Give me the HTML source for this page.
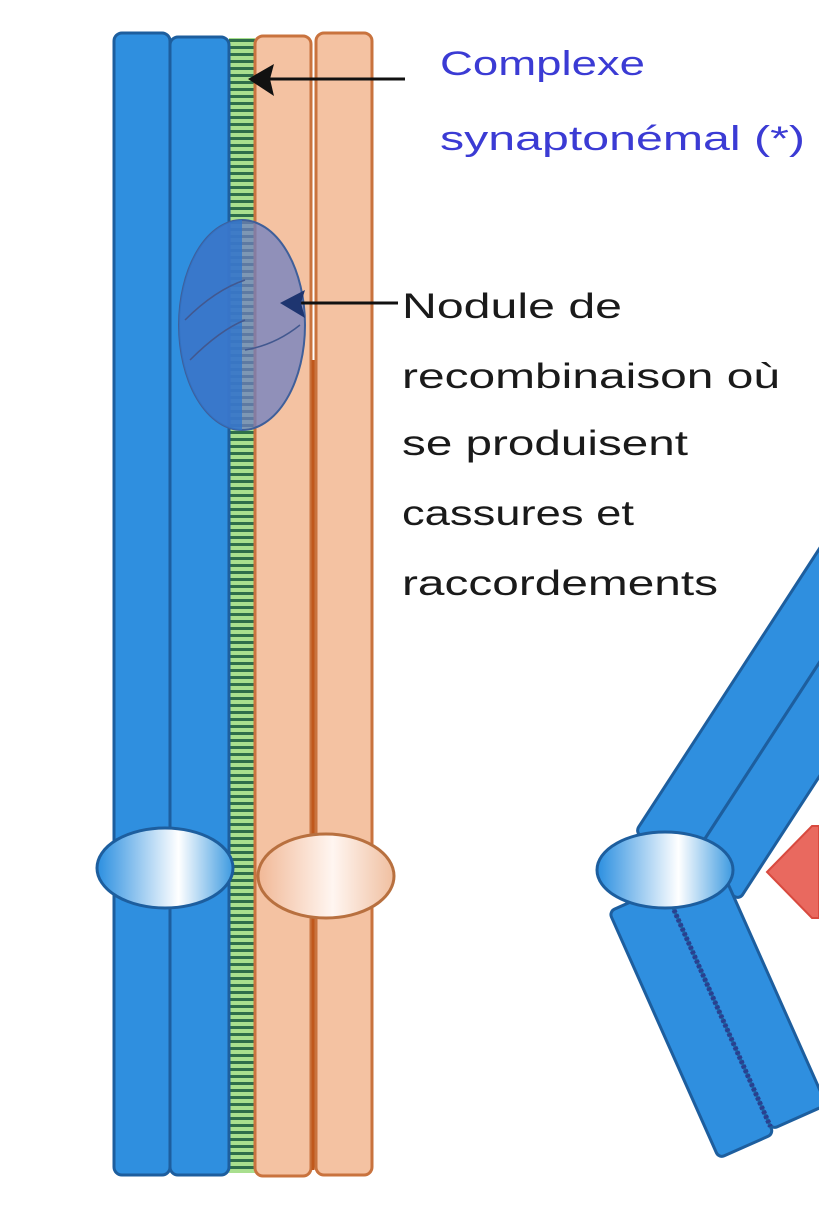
<!DOCTYPE html>
<html><head><meta charset="utf-8"><style>
html,body{margin:0;padding:0;background:#fff;}
svg{display:block;}
text{font-family:"Liberation Sans",sans-serif;}
</style></head><body>
<svg width="819" height="1214" viewBox="0 0 819 1214" xmlns="http://www.w3.org/2000/svg">
<defs>
<pattern id="lad" x="0" y="0" width="30" height="7" patternUnits="userSpaceOnUse">
<rect width="30" height="7" fill="#2f6e4a"/>
<rect y="0" width="30" height="4" fill="#a9df8e"/>
</pattern>
<linearGradient id="bc" x1="0" x2="1" y1="0" y2="0">
<stop offset="0" stop-color="#2b8fe0"/><stop offset="0.6" stop-color="#ffffff"/><stop offset="1" stop-color="#3d9ae0"/>
</linearGradient>
<linearGradient id="oc" x1="0" x2="1">
<stop offset="0" stop-color="#f1b896"/><stop offset="0.55" stop-color="#fff6f1"/><stop offset="1" stop-color="#f0bfa0"/>
</linearGradient>
</defs>
<rect width="819" height="1214" fill="#fff"/>
<rect x="229" y="38" width="26" height="1135" fill="url(#lad)"/>
<rect x="114" y="33" width="56" height="1142" rx="8" fill="#2f8fdf" stroke="#1d5e9e" stroke-width="3"/>
<rect x="170" y="37" width="59" height="1138" rx="8" fill="#2f8fdf" stroke="#1d5e9e" stroke-width="3"/>
<rect x="255" y="36" width="56" height="1140" rx="8" fill="#f4c2a2" stroke="#c9733e" stroke-width="3"/>
<rect x="316" y="33" width="56" height="1142" rx="8" fill="#f4c2a2" stroke="#c9733e" stroke-width="3"/>
<line x1="313" y1="360" x2="313" y2="1170" stroke="#c0581c" stroke-width="3"/>
<ellipse cx="242" cy="325" rx="63" ry="105" fill="#6f7fc0" fill-opacity="0.75" stroke="#3f5f9a" stroke-width="2"/>
<path d="M242,220 L242,430 A63,105 0 0 1 242,220 Z" fill="#2f76cc" fill-opacity="0.8"/>
<path d="M185,320 Q215,290 245,280 M190,360 Q220,330 245,320 M245,350 Q275,345 300,325" stroke="#42588f" fill="none" stroke-width="1.5"/>
<ellipse cx="165" cy="868" rx="68" ry="40" fill="url(#bc)" stroke="#1d5e9e" stroke-width="3"/>
<ellipse cx="326" cy="876" rx="68" ry="42" fill="url(#oc)" stroke="#b8703f" stroke-width="3"/>
<line x1="405" y1="79" x2="265" y2="79" stroke="#111" stroke-width="3"/>
<polygon points="248,79 274,64 270,79 274,96" fill="#111"/>
<line x1="398" y1="303" x2="300" y2="303" stroke="#111" stroke-width="3"/>
<polygon points="280,303 305,290 301,303 305,318" fill="#1e3570"/>
<text x="440" y="75" font-size="34" fill="#3b3bd4" textLength="205" lengthAdjust="spacingAndGlyphs">Complexe</text>
<text x="440" y="150" font-size="34" fill="#3b3bd4" textLength="365" lengthAdjust="spacingAndGlyphs">synaptonémal (*)</text>
<g font-size="35" fill="#1a1a1a">
<text x="402" y="318" textLength="220" lengthAdjust="spacingAndGlyphs">Nodule de</text>
<text x="402" y="388" textLength="378" lengthAdjust="spacingAndGlyphs">recombinaison où</text>
<text x="402" y="455" textLength="286" lengthAdjust="spacingAndGlyphs">se produisent</text>
<text x="402" y="525" textLength="232" lengthAdjust="spacingAndGlyphs">cassures et</text>
<text x="402" y="595" textLength="316" lengthAdjust="spacingAndGlyphs">raccordements</text>
</g>
<g transform="translate(689,867) rotate(-57)">
<rect x="0" y="-64" width="420" height="62" rx="6" fill="#2f8fdf" stroke="#1d5e9e" stroke-width="3"/>
<rect x="0" y="-2" width="420" height="62" rx="6" fill="#2f8fdf" stroke="#1d5e9e" stroke-width="3"/>
</g>
<g transform="translate(662,888) rotate(66)">
<rect x="0" y="-62" width="265" height="60" rx="6" fill="#2f8fdf" stroke="#1d5e9e" stroke-width="3"/>
<rect x="0" y="-2" width="270" height="60" rx="6" fill="#2f8fdf" stroke="#1d5e9e" stroke-width="3"/>
<line x1="0" y1="-2" x2="262" y2="-2" stroke="#2a3f8f" stroke-width="5" stroke-dasharray="3 2"/>
</g>
<ellipse cx="665" cy="870" rx="68" ry="38" fill="url(#bc)" stroke="#1d5e9e" stroke-width="3"/>
<polygon points="767,872 812,826 819,826 819,918 812,918" fill="#e9695f" stroke="#d84a3f" stroke-width="2"/>
</svg>
</body></html>
